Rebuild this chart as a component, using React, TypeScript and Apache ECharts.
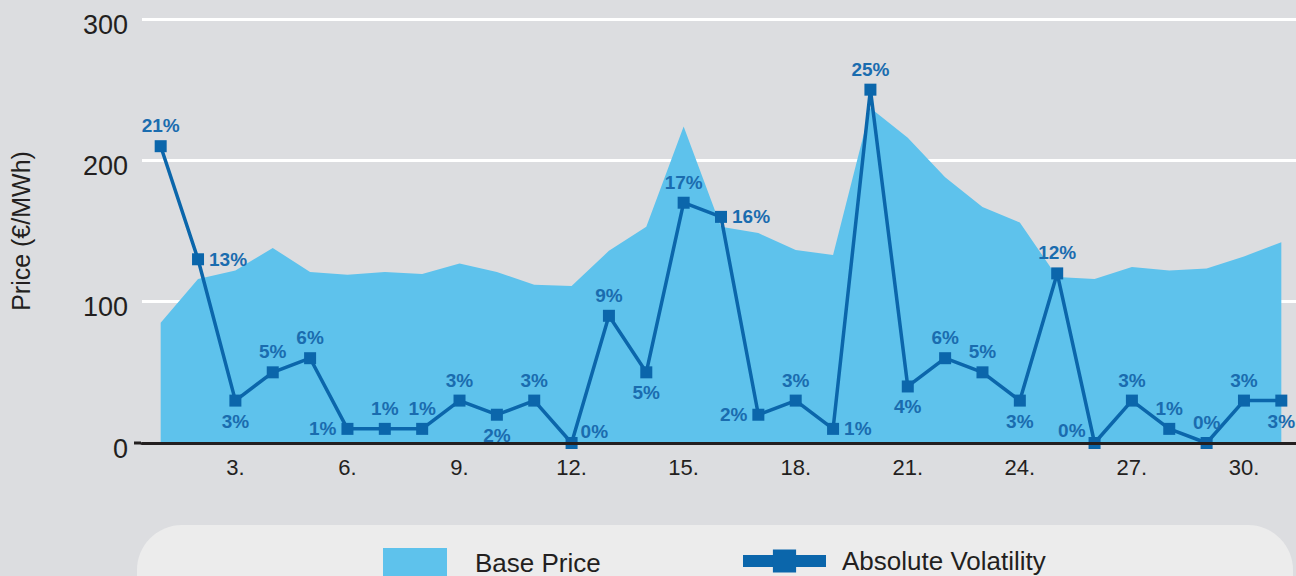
import React, { useEffect, useRef } from "react";
import * as echarts from "echarts";

const days = ["1", "2", "3", "4", "5", "6", "7", "8", "9", "10", "11", "12", "13", "14", "15", "16", "17", "18", "19", "20", "21", "22", "23", "24", "25", "26", "27", "28", "29", "30", "31"];

const basePrice = [85, 116, 122, 138, 121, 119, 121, 119.5, 127, 121, 112, 111, 136, 153, 224, 153, 148.5, 136.5, 133, 237, 216, 188, 167, 156, 117.5, 116, 124.5, 122, 123.5, 132, 142];

const volatilityPct = [21, 13, 3, 5, 6, 1, 1, 1, 3, 2, 3, 0, 9, 5, 17, 16, 2, 3, 1, 25, 4, 6, 5, 3, 12, 0, 3, 1, 0, 3, 3];

const yTicks = [0, 100, 200, 300];

const labelPlacement = ["top", "right", "bottom", "top", "top", "left", "top", "top", "top", "bottom", "top", "right-up", "top", "bottom", "top", "right", "left", "top", "right", "top", "bottom", "top", "top", "bottom", "top", "left-up", "top", "top", "top", "top", "bottom"];

const FONT = "'Liberation Sans', Arial, Helvetica, sans-serif";
const AREA = "#5ec2ec";
const LINE = "#0b66ab";
const LABEL = "#1a6caf";

export default function App() {
  const ref = useRef<HTMLDivElement>(null);
  useEffect(() => {
    if (!ref.current) return;
    const chart = echarts.init(ref.current, null, { renderer: "svg" });
    const lineData = volatilityPct.map((v, i) => {
      const p = labelPlacement[i];
      let label: any = { position: p };
      if (p === "right-up") label = { position: "right", offset: [0, -12], distance: 3 };
      if (p === "left-up") label = { position: "left", offset: [0, -13], distance: 3 };
      return { value: v, label };
    });
    chart.setOption({
      animation: false,
      backgroundColor: "#dcdde0",
      textStyle: { fontFamily: FONT },
      grid: { left: 140, width: 1160, top: 19, height: 424, containLabel: false },
      xAxis: {
        type: "category",
        data: days,
        boundaryGap: true,
        axisLine: { show: true, lineStyle: { color: "#231f20", width: 3 } },
        axisTick: { show: false },
        splitLine: { show: false },
        axisLabel: {
          interval: (idx: number) => (idx + 1) % 3 === 0,
          formatter: (v: string) => v + ".",
          color: "#231f20",
          fontSize: 22,
          fontFamily: FONT,
          margin: 13,
        },
        z: 10,
      },
      yAxis: [
        {
          type: "value",
          min: yTicks[0],
          max: yTicks[yTicks.length - 1],
          interval: 100,
          name: "Price (€/MWh)",
          nameLocation: "middle",
          nameGap: 109,
          nameTextStyle: { color: "#231f20", fontSize: 25, fontFamily: FONT },
          axisLine: { show: false },
          axisTick: { show: false },
          axisLabel: {
            margin: 14,
            formatter: "{a|{value}}",
            rich: {
              a: {
                color: "#231f20",
                fontSize: 27,
                fontFamily: FONT,
                padding: [11, 0, 0, 0],
              },
            },
          },
          splitLine: { show: true, lineStyle: { color: "#ffffff", width: 3 } },
        },
        {
          type: "value",
          min: 0,
          max: 30,
          show: false,
          splitLine: { show: false },
        },
      ],
      legend: [
        {
          data: [{ name: "Base Price", icon: "rect" }],
          left: 383,
          top: 548,
          padding: 0,
          itemWidth: 64,
          itemHeight: 29,
          textStyle: { color: "#231f20", fontSize: 26, fontFamily: FONT, padding: [0, 0, 0, 23] },
          selectedMode: false,
        },
        {
          data: [{ name: "Absolute Volatility" }],
          left: 737,
          top: 548,
          padding: 0,
          itemWidth: 83,
          itemHeight: 29,
          lineStyle: { width: 12 },
          textStyle: { color: "#231f20", fontSize: 26, fontFamily: FONT, padding: [0, 0, 0, 11] },
          selectedMode: false,
        },
      ],
      graphic: [
        {
          type: "rect",
          z: 0,
          shape: { x: 137, y: 525, width: 1156, height: 120, r: 45 },
          style: { fill: "#ececec" },
        },
        {
          type: "line",
          z: 10,
          shape: { x1: 134, y1: 443, x2: 141, y2: 443 },
          style: { stroke: "#231f20", lineWidth: 3 },
        },
      ],
      series: [
        {
          name: "Base Price",
          type: "line",
          data: basePrice,
          yAxisIndex: 0,
          color: AREA,
          symbol: "none",
          lineStyle: { width: 0, color: AREA },
          areaStyle: { color: AREA, opacity: 1 },
          z: 2,
        },
        {
          name: "Absolute Volatility",
          type: "line",
          data: lineData,
          yAxisIndex: 1,
          color: LINE,
          symbol: "rect",
          symbolSize: 12,
          lineStyle: { width: 3.5, color: LINE },
          itemStyle: { color: LINE },
          label: {
            show: true,
            formatter: (p: any) => p.value + "%",
            color: LABEL,
            fontSize: 19,
            fontWeight: "bold",
            fontFamily: FONT,
            distance: 5,
          },
          z: 5,
        },
      ],
    });
    return () => chart.dispose();
  }, []);
  return (
    <div style={{ position: "fixed", left: 0, top: 0, width: 1296, height: 576, overflow: "hidden" }}>
      <div ref={ref} style={{ width: 1304, height: 576 }} />
    </div>
  );
}
